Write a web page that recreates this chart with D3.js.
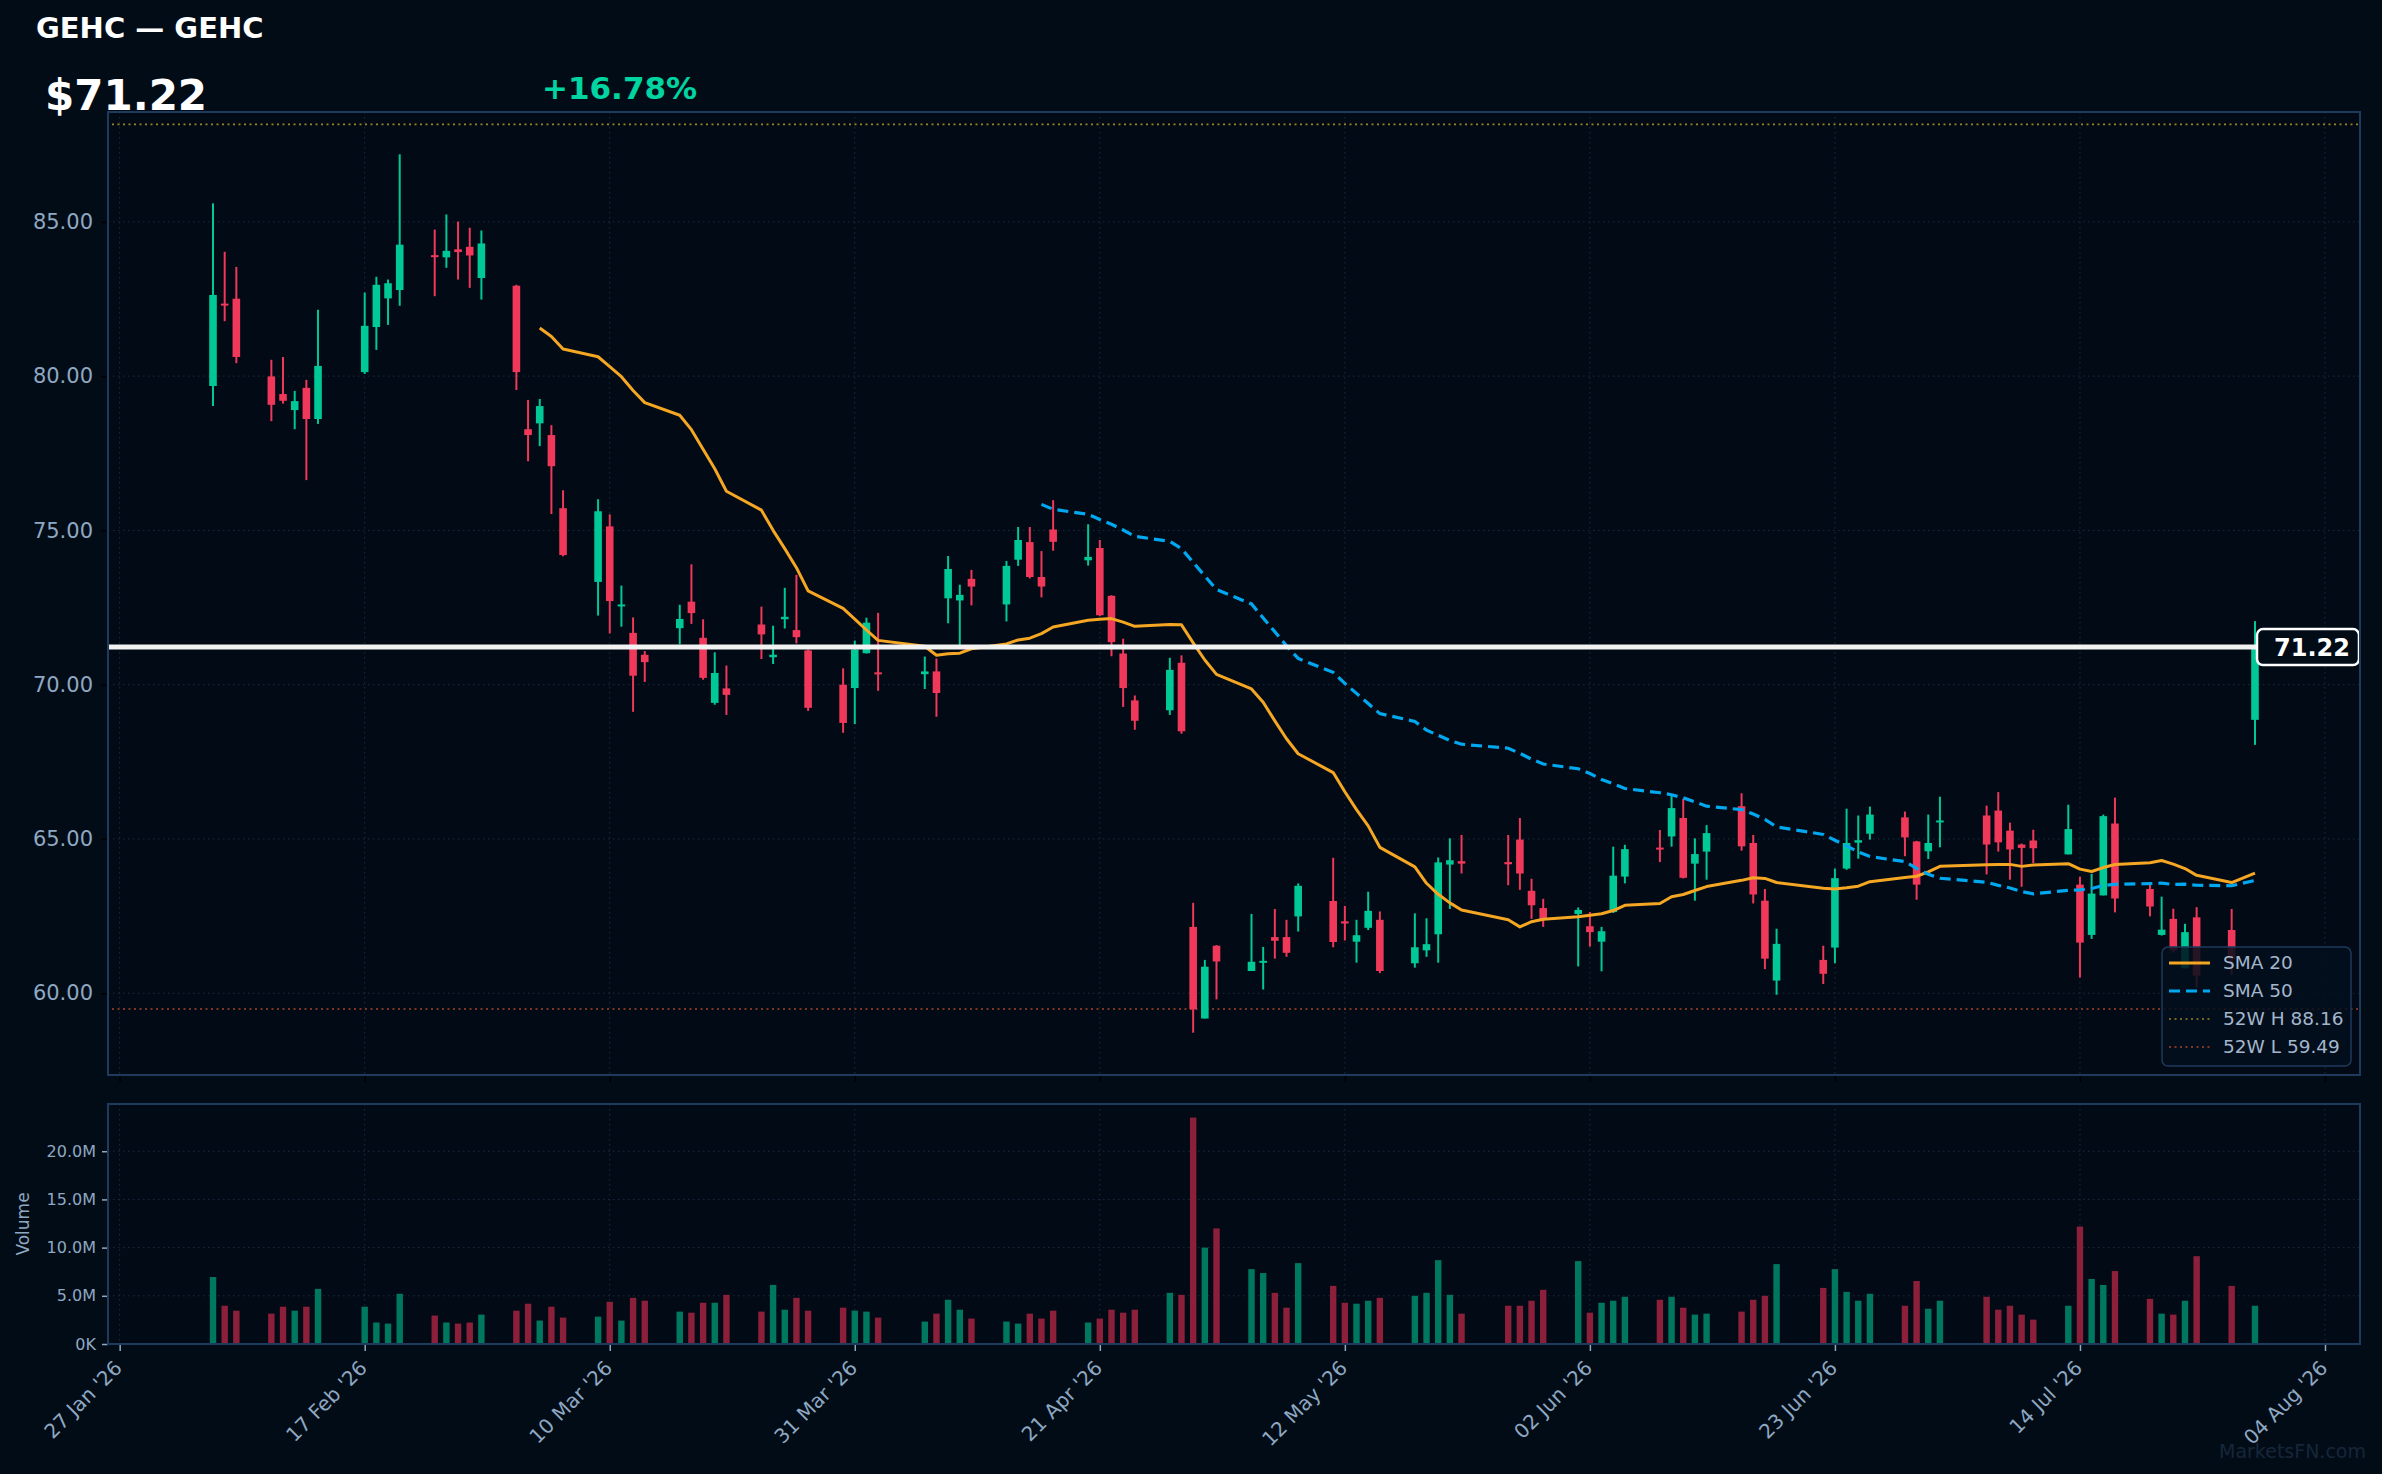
<!DOCTYPE html>
<html>
<head>
<meta charset="utf-8">
<script src="https://cdn.jsdelivr.net/npm/d3@7"></script>
<style>
  body { margin: 0; background: #020c17; }
  svg { display: block; font-family: 'DejaVu Sans', sans-serif; }
</style>
</head>
<body>
<div id="graph"></div>
<script>
// daily bars
var dates = ["2026-02-04","2026-02-05","2026-02-06","2026-02-09","2026-02-10","2026-02-11","2026-02-12","2026-02-13",
  "2026-02-17","2026-02-18","2026-02-19","2026-02-20","2026-02-23","2026-02-24","2026-02-25","2026-02-26","2026-02-27",
  "2026-03-02","2026-03-03","2026-03-04","2026-03-05","2026-03-06","2026-03-09","2026-03-10","2026-03-11","2026-03-12","2026-03-13",
  "2026-03-16","2026-03-17","2026-03-18","2026-03-19","2026-03-20","2026-03-23","2026-03-24","2026-03-25","2026-03-26","2026-03-27",
  "2026-03-30","2026-03-31","2026-04-01","2026-04-02","2026-04-06","2026-04-07","2026-04-08","2026-04-09","2026-04-10",
  "2026-04-13","2026-04-14","2026-04-15","2026-04-16","2026-04-17","2026-04-20","2026-04-21","2026-04-22","2026-04-23","2026-04-24",
  "2026-04-27","2026-04-28","2026-04-29","2026-04-30","2026-05-01","2026-05-04","2026-05-05","2026-05-06","2026-05-07","2026-05-08",
  "2026-05-11","2026-05-12","2026-05-13","2026-05-14","2026-05-15","2026-05-18","2026-05-19","2026-05-20","2026-05-21","2026-05-22",
  "2026-05-26","2026-05-27","2026-05-28","2026-05-29","2026-06-01","2026-06-02","2026-06-03","2026-06-04","2026-06-05",
  "2026-06-08","2026-06-09","2026-06-10","2026-06-11","2026-06-12","2026-06-15","2026-06-16","2026-06-17","2026-06-18",
  "2026-06-22","2026-06-23","2026-06-24","2026-06-25","2026-06-26","2026-06-29","2026-06-30","2026-07-01","2026-07-02",
  "2026-07-06","2026-07-07","2026-07-08","2026-07-09","2026-07-10","2026-07-13","2026-07-14","2026-07-15","2026-07-16","2026-07-17",
  "2026-07-20","2026-07-21","2026-07-22","2026-07-23","2026-07-24","2026-07-27","2026-07-29"];

var opens = [79.68,82.35,82.51,79.99,79.42,78.90,79.62,78.61,80.13,81.59,82.52,82.79,83.92,83.85,84.11,84.19,83.18,
  82.93,78.28,78.47,78.09,75.72,73.33,75.13,72.56,71.68,70.97,71.83,72.69,71.52,69.41,69.88,71.95,70.89,72.12,71.77,71.11,
  70.00,69.89,71.02,70.40,70.34,70.43,72.80,72.73,73.43,72.60,74.05,74.62,73.49,75.03,74.03,74.43,72.88,71.01,69.49,
  69.17,70.71,62.15,59.18,61.54,60.72,61.00,61.82,61.82,62.49,62.99,62.33,61.67,62.12,62.38,60.97,61.39,61.91,64.17,64.28,
  64.25,64.98,63.32,62.76,62.57,62.17,61.67,62.63,63.78,64.72,65.08,65.68,64.20,64.59,66.06,64.87,63.00,60.41,
  61.08,61.48,64.04,64.88,65.17,65.70,64.92,64.60,65.54,65.76,65.92,65.27,64.82,64.95,64.50,63.52,61.89,63.17,65.50,
  63.38,61.89,62.41,60.81,62.46,62.05,68.86];

var highs = [85.60,84.03,83.54,80.53,80.62,79.52,79.88,82.15,82.71,83.22,83.13,87.19,84.75,85.24,85.01,84.81,84.72,
  82.96,79.23,79.26,78.41,76.30,76.01,75.52,73.21,72.18,71.09,72.59,73.90,72.12,71.05,70.62,72.53,71.91,73.14,73.56,71.14,
  70.53,71.43,72.17,72.33,70.91,70.85,74.17,73.24,73.72,74.01,75.11,75.11,74.33,75.98,75.20,74.69,72.90,71.49,69.65,
  70.87,70.95,62.93,61.08,61.56,62.57,61.50,62.73,62.38,63.56,64.39,62.83,62.38,63.29,62.65,62.59,62.43,64.40,65.02,65.13,
  65.13,65.68,63.71,63.06,62.78,62.63,62.15,64.75,64.81,65.29,66.45,66.30,65.02,65.45,66.48,65.13,63.38,62.09,
  61.54,64.04,65.98,65.76,66.05,65.89,64.94,65.79,66.37,66.08,66.52,65.53,64.85,65.30,66.11,63.78,63.87,65.79,66.34,
  63.52,63.13,62.74,62.25,62.79,62.73,72.06];

var lows = [79.03,81.78,80.42,78.54,79.11,78.28,76.63,78.45,80.07,80.85,81.66,82.28,82.59,83.51,83.13,82.86,82.48,
  79.55,77.24,77.73,75.53,74.16,72.24,71.66,71.88,69.12,70.09,71.31,71.97,70.16,69.35,69.02,70.83,70.67,71.82,71.34,69.15,
  68.44,68.72,71.01,69.80,69.86,68.96,71.99,71.25,72.57,72.05,73.85,73.44,72.83,74.34,73.86,72.22,70.92,69.28,68.54,
  69.02,68.41,58.72,59.18,59.80,60.72,60.12,61.12,61.18,62.00,61.49,61.71,60.99,62.05,60.65,60.83,61.18,60.99,62.73,63.88,
  63.50,63.35,62.41,62.15,60.87,61.51,60.71,62.60,63.56,64.25,64.75,63.72,63.00,63.68,64.62,62.91,60.78,59.95,
  60.30,60.97,64.00,64.36,64.98,64.44,63.03,64.35,64.73,63.85,64.59,63.68,63.45,64.22,64.50,60.51,61.76,63.17,62.62,
  62.49,61.87,61.32,60.81,60.19,60.60,68.05];

var closes = [82.63,82.30,80.62,79.07,79.20,79.19,78.61,80.33,81.63,82.96,83.01,84.26,83.86,84.06,84.02,83.91,84.30,
  80.13,78.09,79.03,77.08,74.20,75.62,72.71,72.60,70.29,70.73,72.13,72.32,70.22,70.38,69.67,71.63,70.97,72.20,71.54,69.25,
  68.76,71.14,72.01,70.34,70.43,69.73,73.75,72.91,73.18,73.85,74.69,73.49,73.18,74.63,74.14,72.25,71.38,69.89,68.83,
  70.48,68.49,59.48,60.86,61.03,61.02,61.05,61.70,61.31,63.48,61.66,62.26,61.88,62.67,60.72,61.49,61.59,64.24,64.31,64.20,
  64.18,63.88,62.85,62.39,62.70,61.98,62.01,63.81,64.67,64.67,66.00,63.74,64.51,65.19,64.76,63.20,61.12,61.60,
  60.63,63.73,64.87,64.96,65.79,65.05,63.52,64.87,65.60,64.82,64.89,64.66,64.71,64.70,65.32,61.64,63.23,65.74,63.07,
  62.81,62.06,61.39,61.98,60.57,61.10,71.22];

// volume in millions
var volumes = [6.95,3.97,3.46,3.15,3.87,3.46,3.87,5.72,3.87,2.23,2.12,5.21,2.95,2.23,2.12,2.23,3.05,
  3.46,4.18,2.43,3.87,2.74,2.84,4.38,2.43,4.79,4.49,3.36,3.25,4.28,4.28,5.10,3.36,6.13,3.56,4.79,3.46,
  3.77,3.46,3.36,2.74,2.33,3.15,4.59,3.56,2.64,2.33,2.12,3.15,2.64,3.46,2.23,2.64,3.56,3.25,3.56,
  5.31,5.10,23.49,10.00,11.99,7.77,7.36,5.31,3.77,8.39,6.03,4.28,4.18,4.49,4.79,5.00,5.31,8.70,5.10,3.15,
  3.97,3.97,4.49,5.62,8.60,3.25,4.28,4.49,4.90,4.59,4.90,3.77,3.05,3.15,3.36,4.59,5.00,8.29,
  5.82,7.77,5.41,4.49,5.21,3.97,6.54,3.66,4.49,4.90,3.56,3.97,3.05,2.53,3.97,12.19,6.75,6.13,7.57,
  4.69,3.15,3.05,4.49,9.11,6.03,3.97];

var priceTicks = [60, 65, 70, 75, 80, 85];
var volumeTicks = [0, 5, 10, 15, 20];
var dateTicks = ["2026-01-27","2026-02-17","2026-03-10","2026-03-31","2026-04-21","2026-05-12",
  "2026-06-02","2026-06-23","2026-07-14","2026-08-04"];

var ticker = "GEHC", lastPrice = 71.22, changePct = "+16.78%";
var high52 = 88.16, low52 = 59.49;

var W = 2382, H = 1474;
var bg = "#020c17", frame = "#1e3a5c", gridColor = "#1c2d42", textColor = "#8fa8c2";
var upColor = "#00c896", downColor = "#f0385a";
var upVol = "#00785f", downVol = "#8c203a";

var parse = d3.timeParse("%Y-%m-%d");
var bars = dates.map(function (d, i) {
  return { date: parse(d), o: opens[i], h: highs[i], l: lows[i], c: closes[i], v: volumes[i] };
});

// simple moving averages of the closes
function sma(n) {
  var out = [];
  for (var i = n - 1; i < bars.length; i++) {
    out.push({ date: bars[i].date, v: d3.mean(closes.slice(i - n + 1, i + 1)) });
  }
  return out;
}

var main = { left: 108, right: 2360, top: 112, bottom: 1075 };
var vol = { top: 1104, bottom: 1344 };

var x = d3.scaleTime()
  .domain([parse("2026-01-26"), parse("2026-08-07")])
  .range([main.left, main.right]);
var y = d3.scaleLinear().domain([57.35, 88.56]).range([main.bottom, main.top]);
var yv = d3.scaleLinear().domain([0, 24.9]).range([vol.bottom, vol.top]);

var svg = d3.select("#graph").append("svg")
  .attr("width", W)
  .attr("height", H);

svg.append("rect").attr("width", W).attr("height", H).attr("fill", bg);

// titles
svg.append("text").attr("x", 36).attr("y", 38)
  .attr("font-size", 29).attr("font-weight", "bold").attr("fill", "#ffffff")
  .text(ticker + " \u2014 " + ticker);
svg.append("text").attr("x", 45).attr("y", 110)
  .attr("font-size", 42).attr("font-weight", "bold").attr("fill", "#ffffff")
  .text("$" + lastPrice.toFixed(2));
svg.append("text").attr("x", 542).attr("y", 99)
  .attr("font-size", 31).attr("font-weight", "bold").attr("fill", "#00d4a0")
  .text(changePct);

// panels
function panel(top, bottom) {
  svg.append("rect")
    .attr("x", main.left).attr("y", top)
    .attr("width", main.right - main.left).attr("height", bottom - top)
    .attr("fill", "#010a15");
}
panel(main.top, main.bottom);
panel(vol.top, vol.bottom);

var tickDates = dateTicks.map(parse);

// grid
function vgrid(top, bottom) {
  svg.append("g").selectAll("line").data(tickDates).join("line")
    .attr("x1", function (d) { return x(d); }).attr("x2", function (d) { return x(d); })
    .attr("y1", top).attr("y2", bottom)
    .attr("stroke", gridColor).attr("stroke-width", 1).attr("stroke-dasharray", "1.5,3.5");
}
vgrid(main.top, main.bottom);
vgrid(vol.top, vol.bottom);

svg.append("g").selectAll("line").data(priceTicks).join("line")
  .attr("x1", main.left).attr("x2", main.right)
  .attr("y1", function (d) { return y(d); }).attr("y2", function (d) { return y(d); })
  .attr("stroke", gridColor).attr("stroke-width", 1).attr("stroke-dasharray", "1.5,3.5");
svg.append("g").selectAll("line").data(volumeTicks).join("line")
  .attr("x1", main.left).attr("x2", main.right)
  .attr("y1", function (d) { return yv(d); }).attr("y2", function (d) { return yv(d); })
  .attr("stroke", gridColor).attr("stroke-width", 1).attr("stroke-dasharray", "1.5,3.5");

// 52 week lines
svg.append("line").attr("x1", main.left + 4).attr("x2", main.right)
  .attr("y1", y(high52)).attr("y2", y(high52))
  .attr("stroke", "#9a8424").attr("stroke-width", 1.6).attr("stroke-dasharray", "2,3.5");
svg.append("line").attr("x1", main.left + 4).attr("x2", main.right)
  .attr("y1", y(low52)).attr("y2", y(low52))
  .attr("stroke", "#a84628").attr("stroke-width", 1.6).attr("stroke-dasharray", "2,3.5");

// axes
var yAxis = d3.axisLeft(y).tickValues(priceTicks).tickFormat(d3.format(".2f")).tickSize(7).tickPadding(8);
var gy = svg.append("g").attr("transform", "translate(" + main.left + ",0)").call(yAxis);
gy.select(".domain").remove();
gy.selectAll("line").attr("stroke", "#000000").attr("stroke-width", 1.5);
gy.selectAll("text").attr("fill", textColor).attr("font-size", 21).attr("font-family", "'DejaVu Sans', sans-serif");

var xTop = d3.axisBottom(x).tickValues(tickDates).tickFormat("").tickSize(7);
var gxTop = svg.append("g").attr("transform", "translate(0," + main.bottom + ")").call(xTop);
gxTop.select(".domain").remove();
gxTop.selectAll("line").attr("stroke", "#000000").attr("stroke-width", 1.5);

var yvAxis = d3.axisLeft(yv).tickValues(volumeTicks)
  .tickFormat(function (d) { return d === 0 ? "0K" : d.toFixed(1) + "M"; })
  .tickSize(6).tickPadding(6);
var gyv = svg.append("g").attr("transform", "translate(" + main.left + ",0)").call(yvAxis);
gyv.select(".domain").remove();
gyv.selectAll("line").attr("stroke", textColor).attr("stroke-width", 1.5);
gyv.selectAll("text").attr("fill", textColor).attr("font-size", 16).attr("font-family", "'DejaVu Sans', sans-serif");

var fmt = d3.timeFormat("%d %b '%y");
var xAxis = d3.axisBottom(x).tickValues(tickDates).tickFormat(fmt).tickSize(7).tickPadding(6);
var gx = svg.append("g").attr("transform", "translate(0," + vol.bottom + ")").call(xAxis);
gx.select(".domain").remove();
gx.selectAll("line").attr("stroke", textColor).attr("stroke-width", 1.5);
gx.selectAll("text")
  .attr("fill", textColor).attr("font-size", 20).attr("font-family", "'DejaVu Sans', sans-serif")
  .attr("text-anchor", "end").attr("dy", "0.35em")
  .attr("transform", "translate(-11,11) rotate(-45)");

svg.append("text")
  .attr("transform", "translate(29," + ((vol.top + vol.bottom) / 2) + ") rotate(-90)")
  .attr("text-anchor", "middle").attr("font-size", 17).attr("fill", textColor)
  .text("Volume");

// volume bars
svg.append("g").selectAll("rect").data(bars).join("rect")
  .attr("x", function (d) { return x(d.date) - 3.2; })
  .attr("width", 6.4)
  .attr("y", function (d) { return yv(d.v); })
  .attr("height", function (d) { return yv(0) - yv(d.v); })
  .attr("fill", function (d) { return d.c >= d.o ? upVol : downVol; });

// candles
var candles = svg.append("g");
candles.selectAll("line").data(bars).join("line")
  .attr("x1", function (d) { return x(d.date); }).attr("x2", function (d) { return x(d.date); })
  .attr("y1", function (d) { return y(d.h); }).attr("y2", function (d) { return y(d.l); })
  .attr("stroke", function (d) { return d.c >= d.o ? upColor : downColor; })
  .attr("stroke-width", 2);
candles.selectAll("rect").data(bars).join("rect")
  .attr("x", function (d) { return x(d.date) - 3.8; })
  .attr("width", 7.6)
  .attr("y", function (d) { return y(Math.max(d.o, d.c)); })
  .attr("height", function (d) { return Math.max(2, Math.abs(y(d.o) - y(d.c))); })
  .attr("fill", function (d) { return d.c >= d.o ? upColor : downColor; });

// moving averages
var line = d3.line().x(function (d) { return x(d.date); }).y(function (d) { return y(d.v); });
svg.append("path").datum(sma(20)).attr("d", line)
  .attr("fill", "none").attr("stroke", "#f5a623").attr("stroke-width", 3).attr("stroke-linejoin", "round");
svg.append("path").datum(sma(50)).attr("d", line)
  .attr("fill", "none").attr("stroke", "#00a8f0").attr("stroke-width", 3.2).attr("stroke-dasharray", "11,6");

// last price line + label
var boxX = 2257;
svg.append("line").attr("x1", main.left).attr("x2", boxX)
  .attr("y1", y(lastPrice)).attr("y2", y(lastPrice))
  .attr("stroke", "#f2f2f2").attr("stroke-width", 5);
svg.append("rect").attr("x", boxX).attr("y", y(lastPrice) - 18)
  .attr("width", 102).attr("height", 36).attr("rx", 6)
  .attr("fill", bg).attr("stroke", "#ffffff").attr("stroke-width", 2.5);
svg.append("text").attr("x", 2350).attr("y", y(lastPrice) + 9)
  .attr("text-anchor", "end").attr("font-size", 24).attr("font-weight", "bold").attr("fill", "#ffffff")
  .text(lastPrice.toFixed(2));

// legend
var legendItems = [
  { label: "SMA 20", color: "#f5a623", dash: null, width: 3 },
  { label: "SMA 50", color: "#00a8f0", dash: "11,6", width: 3 },
  { label: "52W H " + high52.toFixed(2), color: "#9a8424", dash: "2,3.5", width: 1.6 },
  { label: "52W L " + low52.toFixed(2), color: "#a84628", dash: "2,3.5", width: 1.6 }
];
var lg = svg.append("g").attr("transform", "translate(2162,947)");
lg.append("rect").attr("width", 189).attr("height", 119).attr("rx", 6)
  .attr("fill", "#030f1d").attr("fill-opacity", 0.85)
  .attr("stroke", frame).attr("stroke-width", 1.5);
legendItems.forEach(function (it, i) {
  var cy = 16 + i * 28;
  lg.append("line").attr("x1", 7).attr("x2", 48).attr("y1", cy).attr("y2", cy)
    .attr("stroke", it.color).attr("stroke-width", it.width)
    .attr("stroke-dasharray", it.dash);
  lg.append("text").attr("x", 61).attr("y", cy).attr("dy", "0.35em")
    .attr("font-size", 18.5).attr("fill", "#a3b6cb").text(it.label);
});

// panel frames on top
[[main.top, main.bottom], [vol.top, vol.bottom]].forEach(function (p) {
  svg.append("rect").attr("x", main.left).attr("y", p[0])
    .attr("width", main.right - main.left).attr("height", p[1] - p[0])
    .attr("fill", "none").attr("stroke", frame).attr("stroke-width", 2);
});

svg.append("text").attr("x", 2366).attr("y", 1458).attr("text-anchor", "end")
  .attr("font-size", 19).attr("fill", "#16263a").text("MarketsFN.com");
</script>
</body>
</html>
